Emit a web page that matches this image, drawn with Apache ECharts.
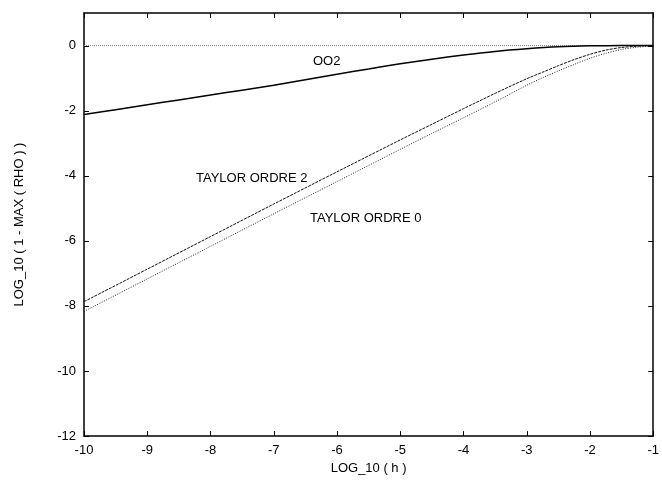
<!DOCTYPE html>
<html><head><meta charset="utf-8">
<script src="https://cdn.jsdelivr.net/npm/echarts@6/dist/echarts.min.js"></script>
<style>html,body{margin:0;padding:0;background:#fff}#c{width:662px;height:480px}</style>
</head><body><div id="c"></div>
<script>
// Data
var xOO2 = [-10, -9.5, -9, -8.5, -8, -7.5, -7, -6.5, -6, -5.5, -5, -4.5, -4, -3.5, -3, -2.5, -2, -1.5, -1];
var yOO2 = [-2.12, -1.97, -1.82, -1.67, -1.52, -1.37, -1.22, -1.05, -0.88, -0.72, -0.56, -0.42, -0.29, -0.18, -0.10, -0.04, -0.01, 0, 0];
var xT2 = [-10, -9, -8, -7, -6, -5, -4.5, -4, -3.5, -3, -2.75, -2.5, -2.25, -2, -1.75, -1.5, -1.25, -1];
var yT2 = [-7.87, -6.87, -5.87, -4.87, -3.88, -2.9, -2.42, -1.94, -1.47, -1.02, -0.82, -0.62, -0.43, -0.27, -0.14, -0.06, -0.02, 0];
var xT0 = [-10, -9, -8, -7, -6, -5, -4.5, -4, -3.5, -3, -2.75, -2.5, -2.25, -2, -1.75, -1.5, -1.25, -1];
var yT0 = [-8.17, -7.17, -6.17, -5.17, -4.18, -3.19, -2.70, -2.22, -1.73, -1.22, -0.99, -0.78, -0.58, -0.39, -0.24, -0.12, -0.05, -0.01];
var xZero = [-10, -1];
var yZero = [0, 0];
var xTicks = [-10, -9, -8, -7, -6, -5, -4, -3, -2, -1];
var yTicks = [-12, -10, -8, -6, -4, -2, 0];
var labelOO2 = 'OO2', labelT2 = 'TAYLOR ORDRE 2', labelT0 = 'TAYLOR ORDRE 0';
var xTitle = 'LOG_10 ( h )', yTitle = 'LOG_10 ( 1 - MAX ( RHO ) )';

var X_MIN = -10, X_MAX = -1, Y_MIN = -12, Y_MAX = 1, TICK = 5;
function pairs(xs, ys) { return xs.map(function (x, i) { return [x, ys[i]]; }); }
var FONT = '"Liberation Sans", Arial, Helvetica, sans-serif';
var FS = 13;
var chart = echarts.init(document.getElementById('c'), null, {renderer: 'canvas'});
function axLine() { return {show: true, onZero: false, lineStyle: {color: '#000', width: 1.5}}; }
function tickLine(x1, y1, x2, y2) {
  return {type: 'line', shape: {x1: x1, y1: y1, x2: x2, y2: y2}, style: {stroke: '#000', lineWidth: 1}};
}
chart.setOption({
  animation: false,
  backgroundColor: '#fff',
  grid: {left: 84, right: 3, top: 13, bottom: 36},
  xAxis: [
    {type: 'value', min: X_MIN, max: X_MAX, interval: 1, position: 'bottom',
     axisLine: axLine(), axisTick: {show: false}, splitLine: {show: false},
     axisLabel: {color: '#000', fontFamily: FONT, fontSize: FS, margin: 8},
     name: xTitle, nameLocation: 'middle', nameGap: 21,
     nameTextStyle: {color: '#000', fontFamily: FONT, fontSize: FS}},
    {type: 'value', min: X_MIN, max: X_MAX, interval: 1, position: 'top',
     axisLine: axLine(), axisTick: {show: false}, splitLine: {show: false}, axisLabel: {show: false}}
  ],
  yAxis: [
    {type: 'value', min: Y_MIN, max: Y_MAX, interval: 2, position: 'left',
     axisLine: axLine(), axisTick: {show: false}, splitLine: {show: false},
     axisLabel: {color: '#000', fontFamily: FONT, fontSize: FS, margin: 8, showMaxLabel: false,
       formatter: function (v) { return v > 0 ? '' : String(v); }},
     name: yTitle, nameLocation: 'middle', nameGap: 58, nameRotate: 90,
     nameTextStyle: {color: '#000', fontFamily: FONT, fontSize: FS}},
    {type: 'value', min: Y_MIN, max: Y_MAX, interval: 2, position: 'right',
     axisLine: axLine(), axisTick: {show: false}, splitLine: {show: false}, axisLabel: {show: false}}
  ],
  series: [
    {type: 'line', data: pairs(xZero, yZero), symbol: 'none', silent: true,
     lineStyle: {color: '#888', width: 1, type: [1, 1]}},
    {type: 'line', data: pairs(xOO2, yOO2), symbol: 'none', smooth: 0.3,
     lineStyle: {color: '#000', width: 1.5, type: 'solid'}},
    {type: 'line', data: pairs(xT2, yT2), symbol: 'none', smooth: 0.3,
     lineStyle: {color: '#111', width: 1, type: [3, 1]}},
    {type: 'line', data: pairs(xT0, yT0), symbol: 'none', smooth: 0.3,
     lineStyle: {color: '#222', width: 1, type: [1, 1.5]}},
    // inward tick marks on bottom and top, positioned through the axis scales
    {type: 'custom', silent: true, clip: false, z: 10,
     data: xTicks.map(function (v) { return [v, Y_MIN]; }),
     renderItem: function (params, api) {
       var v = api.value(0);
       var b = api.coord([v, Y_MIN]), t = api.coord([v, Y_MAX]);
       var x = Math.round(b[0]) + 0.5;
       return {type: 'group', children: [
         tickLine(x, b[1], x, b[1] - TICK),
         tickLine(x, t[1], x, t[1] + TICK)
       ]};
     }},
    // inward tick marks on left and right
    {type: 'custom', silent: true, clip: false, z: 10,
     data: yTicks.map(function (v) { return [X_MIN, v]; }),
     renderItem: function (params, api) {
       var v = api.value(1);
       var l = api.coord([X_MIN, v]), r = api.coord([X_MAX, v]);
       var y = Math.round(l[1]) + 0.5;
       return {type: 'group', children: [
         tickLine(l[0], y, l[0] + TICK, y),
         tickLine(r[0], y, r[0] - TICK, y)
       ]};
     }}
  ],
  graphic: [
    {type: 'text', left: 313, top: 55, style: {text: labelOO2, fill: '#000', font: FS + 'px ' + FONT}},
    {type: 'text', left: 196, top: 172, style: {text: labelT2, fill: '#000', font: FS + 'px ' + FONT}},
    {type: 'text', left: 310, top: 212, style: {text: labelT0, fill: '#000', font: FS + 'px ' + FONT}}
  ]
});
</script></body></html>
